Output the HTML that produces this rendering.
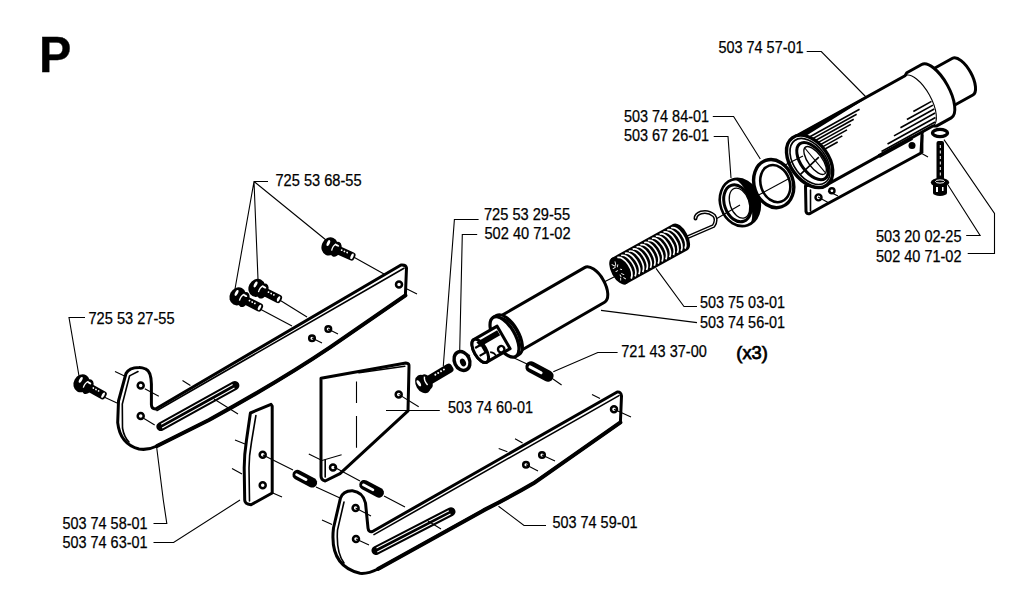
<!DOCTYPE html>
<html><head><meta charset="utf-8"><style>
html,body{margin:0;padding:0;background:#fff;}
svg{display:block;}
text{font-family:"Liberation Sans",sans-serif;fill:#000;}
.lb{font-size:16px;stroke:#000;stroke-width:0.25px;}
.o{fill:none;stroke:#000;stroke-width:2.6;stroke-linejoin:round;stroke-linecap:round;}
.of{fill:#fff;stroke:#000;stroke-width:3;stroke-linejoin:round;stroke-linecap:round;}
.t{fill:none;stroke:#000;stroke-width:1.1;}
.m{fill:none;stroke:#000;stroke-width:1.6;stroke-linecap:round;}
.h{fill:#fff;stroke:#000;stroke-width:2.5;}
</style></head><body>
<svg width="1024" height="607" viewBox="0 0 1024 607">
<rect width="1024" height="607" fill="#fff"/>
<defs>
<g id="bolt">
  <rect x="2" y="-4.3" width="24" height="8.6" rx="3" fill="#000"/>
  <ellipse cx="5.5" cy="0" rx="5" ry="8" fill="#000"/>
  <ellipse cx="-1.5" cy="0" rx="8" ry="9.3" fill="#000"/>
  <ellipse cx="5" cy="-4" rx="2.2" ry="1" fill="#fff"/>
  <ellipse cx="-4" cy="-2.5" rx="1.4" ry="3.2" fill="#fff"/>
  <path d="M3.5,-5 Q1,-2 2,3" stroke="#fff" stroke-width="1.3" fill="none"/>
  <circle cx="11" cy="-1.5" r="0.9" fill="#fff"/>
  <circle cx="14" cy="-1.5" r="0.9" fill="#fff"/>
  <circle cx="17" cy="-1.5" r="0.9" fill="#fff"/>
  <ellipse cx="23" cy="0" rx="1.3" ry="3" fill="#fff"/>
</g>
<g id="pin">
  <rect x="-13.3" y="-5" width="26.6" height="10" rx="5" fill="#000"/>
  <rect x="-10.5" y="-1" width="13.5" height="2.6" rx="1.3" fill="#fff"/>
</g>
<g id="boltL">
  <rect x="2" y="-4.3" width="28" height="8.6" rx="3" fill="#000"/>
  <ellipse cx="3" cy="0" rx="4.5" ry="7.5" fill="#000"/>
  <ellipse cx="-1" cy="0" rx="6.5" ry="9" fill="#000"/>
  <ellipse cx="-4" cy="-2.5" rx="1.4" ry="3.2" fill="#fff"/>
  <path d="M3.5,-5 Q1,-2 2,3" stroke="#fff" stroke-width="1.3" fill="none"/>
  <circle cx="13" cy="-1.5" r="0.9" fill="#fff"/>
  <circle cx="16" cy="-1.5" r="0.9" fill="#fff"/>
  <circle cx="19" cy="-1.5" r="0.9" fill="#fff"/>
  <circle cx="22" cy="-1.5" r="0.9" fill="#fff"/>
</g>
</defs>

<!-- P -->
<text transform="translate(39,72.1) scale(1.01,1.05)" font-size="48" font-weight="bold" stroke="#000" stroke-width="0.3">P</text>

<!-- labels -->
<g class="lb">
<text x="275.5" y="186" textLength="86" lengthAdjust="spacingAndGlyphs">725 53 68-55</text>
<text x="88.5" y="323.5" textLength="86" lengthAdjust="spacingAndGlyphs">725 53 27-55</text>
<text x="484" y="219.6" textLength="86" lengthAdjust="spacingAndGlyphs">725 53 29-55</text>
<text x="484.5" y="239.4" textLength="86" lengthAdjust="spacingAndGlyphs">502 40 71-02</text>
<text x="718.5" y="53.2" textLength="85" lengthAdjust="spacingAndGlyphs">503 74 57-01</text>
<text x="624" y="121.6" textLength="85" lengthAdjust="spacingAndGlyphs">503 74 84-01</text>
<text x="624" y="141.3" textLength="85" lengthAdjust="spacingAndGlyphs">503 67 26-01</text>
<text x="876" y="241.7" textLength="85.5" lengthAdjust="spacingAndGlyphs">503 20 02-25</text>
<text x="876" y="261.5" textLength="85.5" lengthAdjust="spacingAndGlyphs">502 40 71-02</text>
<text x="700" y="307.7" textLength="85" lengthAdjust="spacingAndGlyphs">503 75 03-01</text>
<text x="700" y="327.5" textLength="85" lengthAdjust="spacingAndGlyphs">503 74 56-01</text>
<text x="621.3" y="357.1" textLength="85.5" lengthAdjust="spacingAndGlyphs">721 43 37-00</text>
<text x="448" y="412.9" textLength="85" lengthAdjust="spacingAndGlyphs">503 74 60-01</text>
<text x="62.5" y="528.7" textLength="85" lengthAdjust="spacingAndGlyphs">503 74 58-01</text>
<text x="62.5" y="548.2" textLength="85" lengthAdjust="spacingAndGlyphs">503 74 63-01</text>
<text x="552.5" y="528.1" textLength="85" lengthAdjust="spacingAndGlyphs">503 74 59-01</text>
</g>
<text x="736.3" y="358.8" font-size="18" stroke="#000" stroke-width="0.75" textLength="31.5" lengthAdjust="spacingAndGlyphs">(x3)</text>



<!-- ===== Upper bracket 503 74 58-01 ===== -->
<path class="of" d="M139,367.4 Q129,367.5 126,373.5 L118.5,401 L117.7,422.6 Q120,444 139,449 Q148,450.5 157,446 L209,420 Q280,381 330,347.4 L405.4,295.4 L406.5,268 Q406,264.5 401,265 L155.5,409 Q151.5,409 151.4,404.5 L151.4,384 Q151,371 145.7,369 Q142,367.3 139,367.4 Z"/>
<path class="m" d="M157,410.5 L404,268.3"/>
<path class="o" style="stroke-width:4" d="M157,446 L209,420 Q280,381 330,347.4 L405.4,295.4"/>
<path class="m" d="M129.5,376 L122.3,404 L122.5,428 Q124,437 129,442"/>
<path class="m" d="M130,375.6 L138,371.5"/>
<line x1="160.8" y1="426.6" x2="234.9" y2="385.5" stroke="#000" stroke-width="9" stroke-linecap="round"/>
<line x1="161.2" y1="424.2" x2="232.6" y2="384.6" stroke="#fff" stroke-width="1.1"/>
<line x1="162.2" y1="428.0" x2="234.5" y2="387.9" stroke="#fff" stroke-width="1.1"/>

<circle class="h" cx="140.7" cy="385.5" r="3"/>
<circle class="h" cx="140.7" cy="416" r="3"/>
<circle class="h" cx="312" cy="338.3" r="2.8"/>
<circle class="h" cx="328.3" cy="329" r="2.8"/>
<circle class="h" cx="399" cy="284.6" r="3"/>

<!-- ===== Lower bracket 503 74 59-01 ===== -->
<path class="of" d="M352.4,490.7 Q343,490.5 340.4,498.3 L333.5,528 Q329,566 360,573.3 Q368,574 378,569 L483.5,510.4 Q510,497 533.5,483.3 L620.4,422.4 L621.5,396 Q621,391.5 617.2,392 L372.5,531.5 Q368.5,532.5 368,528 L365.5,503 Q363,492 352.4,490.7 Z"/>
<path class="m" d="M374,534.6 L619,395.6"/>
<path class="o" style="stroke-width:4" d="M378,569 L483.5,510.4 Q510,497 533.5,483.3 L620.4,422.4"/>
<path class="m" d="M344,502 L337.5,530 Q336,552 344,563"/>
<line x1="376.0" y1="550.4" x2="451.0" y2="511.7" stroke="#000" stroke-width="9" stroke-linecap="round"/>
<line x1="376.5" y1="548.1" x2="448.8" y2="510.7" stroke="#fff" stroke-width="1.1"/>
<line x1="377.3" y1="551.9" x2="450.5" y2="514.0" stroke="#fff" stroke-width="1.1"/>

<circle class="h" cx="355.6" cy="508" r="3"/>
<circle class="h" cx="356" cy="539" r="3"/>
<circle class="h" cx="526" cy="464.8" r="2.8"/>
<circle class="h" cx="542" cy="455" r="2.8"/>
<circle class="h" cx="614" cy="409.3" r="3"/>

<!-- ===== Small plate 503 74 63-01 ===== -->
<path class="of" d="M250.4,413 L271,404.3 L272.2,406 L272.2,493 L251,504.8 Q244.7,504 244.7,500 L244.2,468 Q244.2,455 246.5,440 Z"/>
<path class="m" d="M255.9,415.5 L251.5,442 Q249,456 249,468 L249.5,501"/>
<circle class="h" cx="262.7" cy="454.8" r="3"/>
<circle class="h" cx="262.7" cy="485.3" r="3"/>

<!-- ===== Triangular plate 503 74 60-01 ===== -->
<path class="of" d="M321,378.3 L405.9,363 Q409.5,363 409,367 L408,410.9 L340,473.6 L325.2,481 Q321,480 321,476 Z"/>
<path class="m" d="M359,372.8 L404.8,366.3"/>
<path class="m" d="M325.2,460 L325.2,477"/>
<path class="t" d="M356.5,381.5 V403 M356.5,416 V447.8"/>
<circle class="h" cx="398.7" cy="394.4" r="3"/>
<circle class="h" cx="333" cy="467.4" r="3"/>

<!-- ===== Cylinder 503 74 56-01 ===== -->
<g transform="translate(504.5,336.9) rotate(-30)">
  <path class="of" d="M3,-20 L104,-20 A10,20 0 0 1 104,20 L3,20 Z"/>
  <path class="of" d="M0,-22.5 L4,-22.5 A10.5,22.5 0 0 1 4,22.5 L0,22.5 Z"/>
  <ellipse cx="0" cy="0" rx="10.5" ry="22.5" fill="#fff" stroke="#000" stroke-width="3.2"/>
  <path d="M4,-19 A9,19 0 0 1 4,19" fill="none" stroke="#000" stroke-width="1.5"/>
  <path class="of" d="M-1,-13 L-28,-13 A6,13 0 0 0 -28,13 L-1,13 Z"/>
  <ellipse class="of" cx="-28" cy="0" rx="6" ry="13"/>
  <path d="M-27,-9.5 L-3,-9.5 L-3,-3.5 L-26,-3.5 Z" fill="#000"/>
  <path d="M-31,-5 L-24,-5 L-24,4 L-31,4" fill="none" stroke="#000" stroke-width="2.2"/>
  <path d="M-20,6 Q-16,9 -17,13" fill="none" stroke="#000" stroke-width="1.6"/>
  <circle cx="-9" cy="9" r="3.2" fill="#fff" stroke="#000" stroke-width="2.4"/>
</g>

<!-- ===== Spring 503 75 03-01 ===== -->
<path d="M688,237 L713.5,226 Q717.5,220 714,215.5 Q708,210.5 701,212.5 Q695.5,214.5 695.5,218.5" fill="none" stroke="#000" stroke-width="4" stroke-linecap="round"/>
<path d="M688,237 L713.5,226 Q717.5,220 714,215.5 Q708,210.5 701,212.5 Q695.5,214.5 695.5,218.5" fill="none" stroke="#fff" stroke-width="1.1"/>
<g transform="translate(619,271) rotate(-29)">
  <path d="M0,-14 L70,-14 A6.5,14 0 0 1 70,14 L0,14 Z" fill="#000" stroke="#000" stroke-width="2"/>
  <g fill="none" stroke="#fff" stroke-width="1.7"><path d="M5.0,-12.5 A7,13 0 0 1 7.0,12.5"/><path d="M9.4,-12.5 A7,13 0 0 1 11.4,12.5"/><path d="M13.8,-12.5 A7,13 0 0 1 15.8,12.5"/><path d="M18.2,-12.5 A7,13 0 0 1 20.2,12.5"/><path d="M22.6,-12.5 A7,13 0 0 1 24.6,12.5"/><path d="M27.0,-12.5 A7,13 0 0 1 29.0,12.5"/><path d="M31.4,-12.5 A7,13 0 0 1 33.4,12.5"/><path d="M35.8,-12.5 A7,13 0 0 1 37.8,12.5"/><path d="M40.2,-12.5 A7,13 0 0 1 42.2,12.5"/><path d="M44.6,-12.5 A7,13 0 0 1 46.6,12.5"/><path d="M49.0,-12.5 A7,13 0 0 1 51.0,12.5"/><path d="M53.4,-12.5 A7,13 0 0 1 55.4,12.5"/><path d="M57.8,-12.5 A7,13 0 0 1 59.8,12.5"/><path d="M62.2,-12.5 A7,13 0 0 1 64.2,12.5"/><path d="M66.6,-12.5 A7,13 0 0 1 68.6,12.5"/></g>
  <ellipse cx="0" cy="0" rx="7.5" ry="15" fill="#000"/>
  <g stroke="#fff" stroke-width="0.9" stroke-linecap="round"><path d="M-3,-9 L-1,-6 M1,-10 L0,-6.5 M-4,-5 L-1.5,-5 M2,-6 L0.5,-4.5 M-3,-1 L-1,-1 M2,-1 L3,0 M-1,4 L-1,6 M1,3.5 L2.5,5.5 M-2,7 L-3,9 M1,8 L2,10"/></g>
</g>

<!-- ===== Rings ===== -->
<g transform="translate(739.8,202.5) rotate(-19)">
  <ellipse cx="0" cy="0" rx="19.5" ry="24" fill="#fff" stroke="#000" stroke-width="2.6"/>
  <path d="M-2,-24 A19.5,24 0 0 1 2,24 A9,22 0 0 0 -2,-24 Z" fill="#000"/>
  <ellipse cx="-2.5" cy="0" rx="13" ry="19" fill="#fff" stroke="#000" stroke-width="3"/>
  <ellipse cx="-0.5" cy="0.5" rx="9.5" ry="15.5" fill="none" stroke="#000" stroke-width="1.3"/>
</g>
<g transform="translate(773.7,183.6) rotate(-19)">
  <ellipse cx="0" cy="0" rx="19.5" ry="24.5" fill="#fff" stroke="#000" stroke-width="3.4"/>
  <ellipse cx="1.5" cy="0.5" rx="14.5" ry="19" fill="#fff" stroke="#000" stroke-width="2.6"/>
</g>

<!-- ===== Tube 503 74 57-01 ===== -->
<path class="of" d="M805.5,186 L806,211.5 Q807,214.5 810,213.5 L823.3,206 L921,153 L922.3,130 L833,178 Z"/>
<path class="m" d="M810.5,190 V211"/>
<g transform="translate(810.5,161) rotate(-29)">
  <path class="of" d="M140,-21 L174,-21 A9,21 0 0 1 174,21 L140,21 Z"/>
  <path class="of" d="M0,-28.7 L124,-28.7 L127,-30.5 L144,-30.5 A12.5,30.5 0 0 1 144,30.5 L127,30.5 L124,28.7 L0,28.7 Z"/>
  <path class="t" d="M124,-28.7 A12,28.7 0 0 1 124,28.7"/>
  <line x1="62" y1="29" x2="100" y2="29" stroke="#000" stroke-width="4"/>
  <path d="M0,-29.6 L76,-29.6 L76,-27.6 L0,-23.8 Z" fill="#000"/>
<line x1="4" y1="-21.5" x2="68" y2="-21.5" stroke="#000" stroke-width="1.6"/>
<line x1="4" y1="-18.5" x2="63" y2="-18.5" stroke="#000" stroke-width="1.6"/>
<line x1="4" y1="-15.5" x2="58" y2="-15.5" stroke="#000" stroke-width="1.6"/>
<line x1="4" y1="-12.5" x2="53" y2="-12.5" stroke="#000" stroke-width="1.6"/>
<line x1="4" y1="-9.5" x2="47" y2="-9.5" stroke="#000" stroke-width="1.6"/>
<line x1="4" y1="-6.5" x2="40" y2="-6.5" stroke="#000" stroke-width="1.6"/>
<line x1="4" y1="-3.5" x2="33" y2="-3.5" stroke="#000" stroke-width="1.6"/>
<line x1="114.0" y1="6.5" x2="134.7" y2="6.5" stroke="#000" stroke-width="1.7"/>
<line x1="104.4" y1="10.5" x2="134.2" y2="10.5" stroke="#000" stroke-width="1.7"/>
<line x1="94.8" y1="14.5" x2="133.4" y2="14.5" stroke="#000" stroke-width="1.7"/>
<line x1="85.2" y1="18.5" x2="132.2" y2="18.5" stroke="#000" stroke-width="1.7"/>
<line x1="75.6" y1="22.5" x2="130.4" y2="22.5" stroke="#000" stroke-width="1.7"/>
<line x1="66.7" y1="26.2" x2="127.9" y2="26.2" stroke="#000" stroke-width="1.7"/>
</g>
<g transform="translate(809.6,161.4) rotate(-36.2)">
<ellipse cx="0" cy="0" rx="19" ry="29.3" fill="#fff" stroke="#000" stroke-width="3.4"/>
<ellipse cx="0.3" cy="0.3" rx="16" ry="26" fill="none" stroke="#000" stroke-width="1.6"/>
<ellipse cx="2.5" cy="1.5" rx="11.5" ry="21.5" fill="none" stroke="#000" stroke-width="3"/>
<ellipse cx="5" cy="2.5" rx="7" ry="16.5" fill="none" stroke="#000" stroke-width="1.4"/>
<path d="M-15,5 L10,2" stroke="#000" stroke-width="1.6"/>
<path d="M4,-14 L6,18" stroke="#000" stroke-width="1.1"/>
</g>
<circle cx="818.5" cy="197.4" r="3" fill="#fff" stroke="#000" stroke-width="2.4"/>
<circle cx="831.9" cy="190.8" r="2.6" fill="#fff" stroke="#000" stroke-width="2.4"/>
<circle cx="912" cy="145.6" r="3.5" fill="#000"/>
<line x1="922.3" y1="135" x2="922.3" y2="153" stroke="#000" stroke-width="2.2"/>
<!-- bolt 503 20 02-25 -->
<ellipse cx="940" cy="133" rx="7.5" ry="3.6" fill="#fff" stroke="#000" stroke-width="3.4"/>
<rect x="936.5" y="141" width="7.5" height="40" rx="2" fill="#000"/>
<path d="M940.3,145 V176" stroke="#fff" stroke-width="1" stroke-dasharray="3 2.5"/>
<ellipse cx="940" cy="182.5" rx="9.2" ry="4.5" fill="#000"/>
<rect x="933" y="182" width="14" height="11" fill="#000"/>
<ellipse cx="940" cy="193" rx="7" ry="3" fill="#000"/>
<ellipse cx="940" cy="181.5" rx="4.5" ry="1.6" fill="none" stroke="#fff" stroke-width="1"/>
<rect x="936" y="187" width="2" height="5" fill="#fff"/>
<rect x="942" y="187" width="1.5" height="4" fill="#fff"/>
<!-- thin center / leader lines (on top) -->
<g class="t">
<path d="M268 181.5H254L235 289M254 181.5L258 279M254 181.5L326 240"/>
<path d="M85 317.5H69L79 376"/>
<path d="M478.6 219.5H454.4L443.3 366"/>
<path d="M477.2 234.5H462.3L459.7 351"/>
<path d="M806.7 51.5H821.3L866 97"/>
<path d="M712.8 116.5H733.6L760.3 159"/>
<path d="M713.7 136.5H728L731 178"/>
<path d="M966.2 235.5H980.1L948 185"/>
<path d="M967.7 253.5H994.5V213.5L944 139.6"/>
<path d="M697 306.5H684L656 268.4"/>
<path d="M697 322.6L601 310.4"/>
<path d="M617.6 352.5H597.8L553.3 371.7"/>
<path d="M439.8 410.5H386"/>
<path d="M153.5 523.5H166.8L163.3 500L156.5 446"/>
<path d="M153.5 542.5H173.6L240 500"/>
<path d="M546 525.5H524L498.5 506.2"/>
<!-- bolt axes -->
<path d="M350 255L384 274M407 289L417 294"/>
<path d="M278 299L307 317"/>
<path d="M260 309L292 326"/>
<path d="M104 397L117 403"/>
<path d="M455 363.4L470 355"/>
<path d="M511 356.4L527 364M553 379L561.6 385"/>
<path d="M604 282L616 276"/>
<!-- pin axes -->
<path d="M263 455L293 470M316 487L340 498"/>
<path d="M334 467L360 481M384 496L405 507"/>
<!-- ticks -->
<path d="M115 371.5L124.5 376M144.8 388.8L158.8 396.2M144 418.5L154.7 425"/>
<path d="M182.5 380.5L190.4 385.5M214 399L238 414M235 440L245 444"/>
<path d="M312 338L322 343M328 329L338 334"/>
<path d="M322 520L332 524.5M232 468.5L242 474M272.8 493L282 497"/>
<path d="M308.8 454L322 460.5L341.6 454.8"/>
<path d="M398.7 394.4L418.7 406.8"/>
<path d="M355.6 508L371 516M356 539L369 545M428 521L441 529"/>
<path d="M526 464.8L538 471M542 455L555 461M614 409.3L631 417M592 394.4L600 398.6M515 438.7L522.6 443M498.7 448.5L507.4 451.7"/>
<path d="M920 152.6L928 157"/>
<path d="M828 191L838 196M818 197L829 203"/>
<path d="M783 166L803 156"/>
<path d="M716 219L740 205"/>
<path d="M755 197L790 178"/>
</g>
<!-- bolts -->
<use href="#bolt" transform="translate(331,247) rotate(24)"/>
<use href="#bolt" transform="translate(239,297) rotate(27)"/>
<use href="#bolt" transform="translate(258,288.5) rotate(27)"/>
<use href="#bolt" transform="translate(83,384) rotate(29)"/>
<use href="#boltL" transform="translate(424,383.4) rotate(-31) scale(1.1)"/>
<!-- washer at 29-55 -->
<ellipse cx="462" cy="361" rx="7.5" ry="9.8" fill="#fff" stroke="#000" stroke-width="3.4" transform="rotate(-25 462 361)"/>
<ellipse cx="463" cy="362.5" rx="2.8" ry="4" fill="#000" transform="rotate(-25 463 362.5)"/>
<!-- pins -->
<use href="#pin" transform="translate(304.8,478.7) rotate(28)"/>
<use href="#pin" transform="translate(371.6,488.8) rotate(28)"/>
<use href="#pin" transform="translate(539.5,371.5) rotate(28) scale(1.15)"/>


</svg>
</body></html>
